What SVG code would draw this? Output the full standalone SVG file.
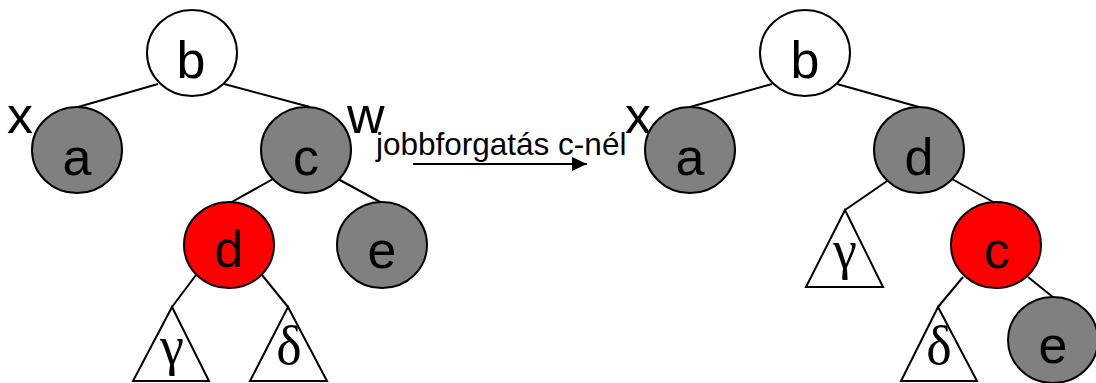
<svg xmlns="http://www.w3.org/2000/svg" width="1096" height="383" viewBox="0 0 1096 383">
  <style>
    .edge { stroke: #000; stroke-width: 2; fill: none; }
    .node { stroke: #000; stroke-width: 2; }
    .white { fill: #fff; }
    .black { fill: #808080; }
    .red { fill: #ff0000; }
    .key { font-family: "Liberation Sans", Arial, sans-serif; font-size: 52px; fill: #000; text-anchor: middle; }
    .tag { font-family: "Liberation Sans", Arial, sans-serif; font-size: 52px; fill: #000; }
    .sub { stroke: #000; stroke-width: 2; fill: #fff; }
    .greek { font-family: "Liberation Serif", "Times New Roman", serif; font-size: 54px; fill: #000; text-anchor: middle; }
    .caption { font-family: "Liberation Sans", Arial, sans-serif; font-size: 31.5px; fill: #000; }
  </style>
  <defs>
    <marker id="arrowhead" markerWidth="16" markerHeight="14" refX="15" refY="7" orient="auto" markerUnits="userSpaceOnUse">
      <path d="M0,0 L15,7 L0,14 Z" fill="#000"/>
    </marker>
  </defs>

  <!-- edges of both trees -->
  <g id="connectors">
    <!-- before rotation -->
    <line class="edge" x1="158" y1="84" x2="78" y2="107"/>
    <line class="edge" x1="224" y1="84" x2="310" y2="107"/>
    <line class="edge" x1="273" y1="179" x2="230" y2="203"/>
    <line class="edge" x1="338" y1="179" x2="382" y2="203"/>
    <line class="edge" x1="196" y1="275" x2="172" y2="307"/>
    <line class="edge" x1="262" y1="275" x2="288" y2="307"/>
    <!-- after rotation -->
    <line class="edge" x1="772" y1="84" x2="690" y2="107"/>
    <line class="edge" x1="837" y1="84" x2="919" y2="107"/>
    <line class="edge" x1="890" y1="179" x2="845" y2="210"/>
    <line class="edge" x1="952" y1="179" x2="995" y2="203"/>
    <line class="edge" x1="963" y1="277" x2="938" y2="307"/>
    <line class="edge" x1="1028" y1="277" x2="1054" y2="298"/>
    <!-- transformation arrow -->
    <line class="edge" x1="413" y1="164" x2="587" y2="164" marker-end="url(#arrowhead)"/>
  </g>

  <!-- tree before the right rotation -->
  <g id="L-b"><ellipse class="node white" cx="192" cy="53" rx="45" ry="43"/><text class="key" x="191" y="78">b</text></g>
  <g id="L-a"><ellipse class="node black" cx="77" cy="150" rx="45" ry="43"/><text class="key" x="77" y="175">a</text></g>
  <g id="L-c"><ellipse class="node black" cx="306" cy="150" rx="45" ry="43"/><text class="key" x="306" y="175">c</text></g>
  <g id="L-d"><ellipse class="node red" cx="229" cy="245" rx="45" ry="43"/><text class="key" x="229" y="267">d</text></g>
  <g id="L-e"><ellipse class="node black" cx="382" cy="245" rx="45" ry="43"/><text class="key" x="382" y="268">e</text></g>
  <g id="L-gamma"><polygon class="sub" points="172,307 133,381 209,381"/><text class="greek" x="172" y="364">γ</text></g>
  <g id="L-delta"><polygon class="sub" points="288,307 250,381 327,381"/><text class="greek" x="289" y="364">δ</text></g>
  <g id="L-labels">
    <text class="tag" x="7" y="133">x</text>
    <text class="tag" x="347" y="133">w</text>
  </g>

  <g id="rotation-label">
    <text class="caption" x="376" y="155">jobbforgatás c-nél</text>
  </g>

  <!-- tree after the right rotation -->
  <g id="R-b"><ellipse class="node white" cx="805" cy="53" rx="45" ry="43"/><text class="key" x="805" y="78">b</text></g>
  <g id="R-a"><ellipse class="node black" cx="690" cy="150" rx="45" ry="43"/><text class="key" x="690" y="175">a</text></g>
  <g id="R-d"><ellipse class="node black" cx="919" cy="150" rx="45" ry="43"/><text class="key" x="919" y="175">d</text></g>
  <g id="R-c"><ellipse class="node red" cx="996" cy="245" rx="45" ry="43"/><text class="key" x="997" y="268">c</text></g>
  <g id="R-e"><ellipse class="node black" cx="1053" cy="340" rx="45" ry="43"/><text class="key" x="1053" y="363">e</text></g>
  <g id="R-gamma"><polygon class="sub" points="845,210 806,287 883,287"/><text class="greek" x="845" y="268">γ</text></g>
  <g id="R-delta"><polygon class="sub" points="938,307 901,381 977,381"/><text class="greek" x="939" y="364">δ</text></g>
  <g id="R-labels">
    <text class="tag" x="625" y="133">x</text>
  </g>
</svg>
